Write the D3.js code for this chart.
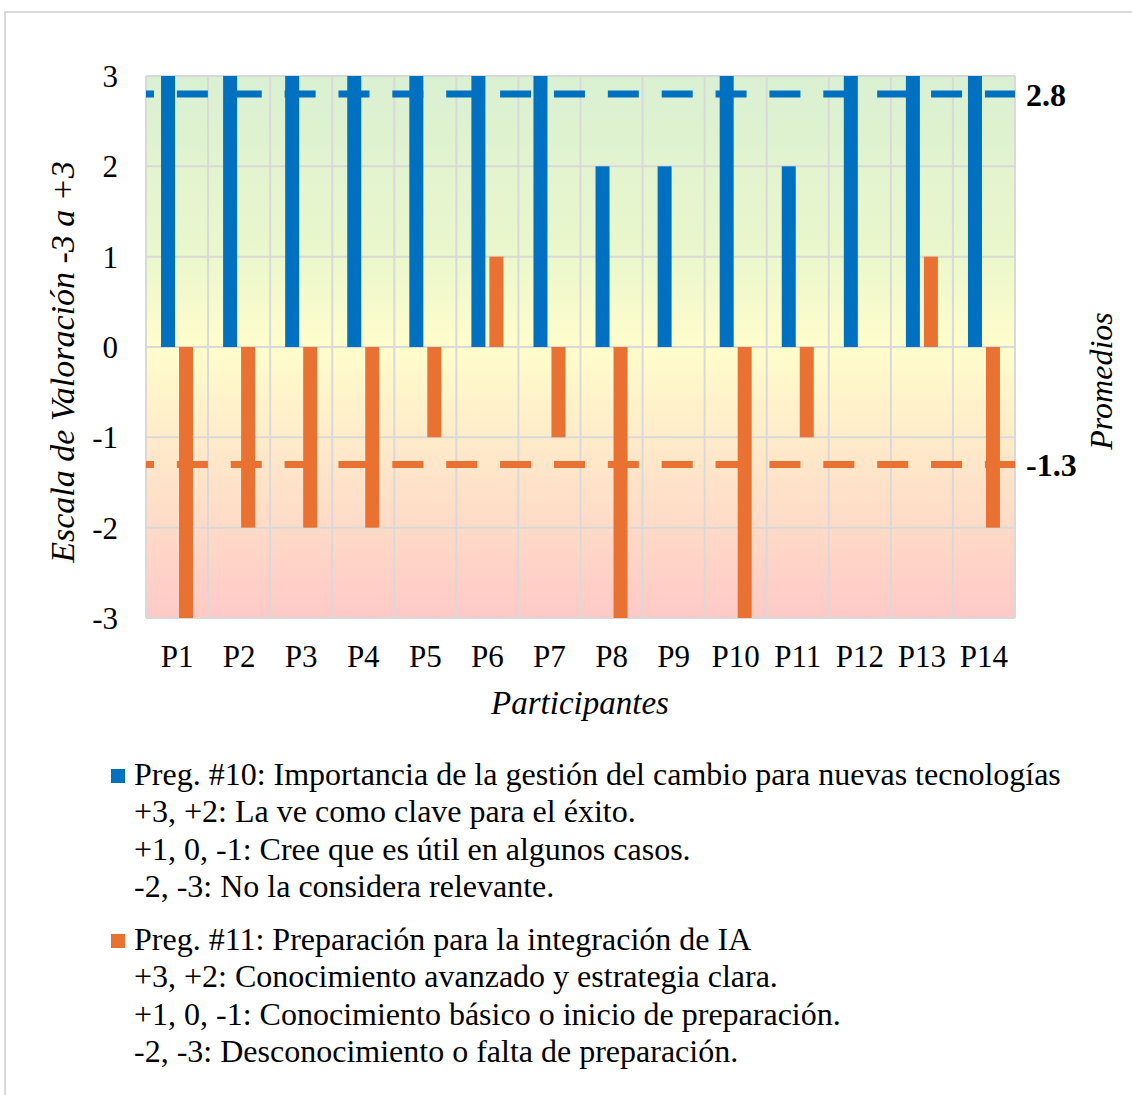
<!DOCTYPE html>
<html lang="es">
<head>
<meta charset="utf-8">
<script src="https://cdn.jsdelivr.net/npm/d3@7/dist/d3.min.js"></script>
<style>
  html, body { margin: 0; padding: 0; background: #ffffff; }
  svg { display: block; font-family: "Liberation Serif", "Times New Roman", serif; }
</style>
</head>
<body>
<svg id="chart" width="1132" height="1095"></svg>
<script>
// Participants and their ratings (-3 .. +3) for each question
const participants = ["P1","P2","P3","P4","P5","P6","P7","P8","P9","P10","P11","P12","P13","P14"];
const preg10 = [3, 3, 3, 3, 3, 3, 3, 2, 2, 3, 2, 3, 3, 3];
const preg11 = [-3, -2, -2, -2, -1, 1, -1, -3, 0, -3, -1, 0, 1, -2];
const yTicks = [-3, -2, -1, 0, 1, 2, 3];

const seriesKeys = ["preg10", "preg11"];
const seriesColors = ["#0070C0", "#E97132"];

const legendPreg10 = [
  "Preg. #10: Importancia de la gestión del cambio para nuevas tecnologías",
  "+3, +2: La ve como clave para el éxito.",
  "+1, 0, -1: Cree que es útil en algunos casos.",
  "-2, -3: No la considera relevante."
];
const legendPreg11 = [
  "Preg. #11: Preparación para la integración de IA",
  "+3, +2: Conocimiento avanzado y estrategia clara.",
  "+1, 0, -1: Conocimiento básico o inicio de preparación.",
  "-2, -3: Desconocimiento o falta de preparación."
];

const rows = participants.map((p, i) => ({ p, preg10: preg10[i], preg11: preg11[i] }));
const averages = [
  +d3.mean(preg10).toFixed(1),
  +d3.mean(preg11).toFixed(1)
];

const svg = d3.select("#chart");
const plot = { left: 146, right: 1015, top: 76, bottom: 618 };
const gridColor = "#d9d9d9";
const serif = "Liberation Serif, Times New Roman, serif";

// Outer frame of the figure
svg.append("path")
  .attr("d", "M5,1095 V12 H1132")
  .attr("fill", "none")
  .attr("stroke", gridColor)
  .attr("stroke-width", 2);

const x = d3.scaleBand().domain(participants).range([plot.left, plot.right]).padding(0);
const xInner = d3.scaleBand().domain(seriesKeys)
  .range([x.bandwidth() / 2 - 16, x.bandwidth() / 2 + 16])
  .paddingInner(0.2222).paddingOuter(0);
const y = d3.scaleLinear().domain([-3, 3]).range([plot.bottom, plot.top]);

// Background: green on top, yellow around zero, pink at the bottom
const defs = svg.append("defs");
const grad = defs.append("linearGradient").attr("id", "bg")
  .attr("x1", 0).attr("y1", 0).attr("x2", 0).attr("y2", 1);
[["0%", "#d9f0d2"], ["33%", "#ebf7cc"], ["50%", "#fffdcc"], ["72%", "#ffe6c9"], ["100%", "#ffc9c6"]]
  .forEach(([o, c]) => grad.append("stop").attr("offset", o).attr("stop-color", c));

svg.append("rect")
  .attr("x", plot.left).attr("y", plot.top)
  .attr("width", plot.right - plot.left).attr("height", plot.bottom - plot.top)
  .attr("fill", "url(#bg)");

// Gridlines
svg.append("g")
  .selectAll("line")
  .data(yTicks)
  .join("line")
  .attr("x1", plot.left).attr("x2", plot.right)
  .attr("y1", d => y(d)).attr("y2", d => y(d))
  .attr("stroke", gridColor).attr("stroke-width", 2);

const vEdges = participants.map(p => x(p)).concat([plot.right]);
svg.append("g")
  .selectAll("line")
  .data(vEdges)
  .join("line")
  .attr("x1", d => d).attr("x2", d => d)
  .attr("y1", plot.top).attr("y2", plot.bottom)
  .attr("stroke", gridColor).attr("stroke-width", 2);

// Bars
const groups = svg.append("g")
  .selectAll("g")
  .data(rows)
  .join("g")
  .attr("transform", d => `translate(${x(d.p)},0)`);

groups.selectAll("rect")
  .data(d => seriesKeys.map((k, i) => ({ key: k, value: d[k], color: seriesColors[i] })))
  .join("rect")
  .attr("x", d => xInner(d.key))
  .attr("width", xInner.bandwidth())
  .attr("y", d => y(Math.max(0, d.value)))
  .attr("height", d => Math.abs(y(d.value) - y(0)))
  .attr("fill", d => d.color);

// Average lines (dashed) with their labels on the right
const avgG = svg.append("g");
averages.forEach((a, i) => {
  avgG.append("line")
    .attr("x1", plot.left).attr("x2", plot.right)
    .attr("y1", y(a)).attr("y2", y(a))
    .attr("stroke", seriesColors[i])
    .attr("stroke-width", 7)
    .attr("stroke-dasharray", "31 22.87")
    .attr("stroke-dashoffset", 23);
  avgG.append("text")
    .attr("x", 1026)
    .attr("y", y(a) + 12)
    .attr("font-size", 32)
    .attr("font-family", serif)
    .attr("font-weight", "bold")
    .attr("fill", "#000")
    .text(a.toFixed(1));
});

// Y axis tick labels
const yAxis = d3.axisLeft(y).tickValues(yTicks).tickSize(0).tickPadding(0)
  .tickFormat(d => String(d));
const yAxisG = svg.append("g").attr("transform", `translate(118,0)`).call(yAxis);
yAxisG.select(".domain").remove();
yAxisG.selectAll("text")
  .attr("font-size", 31)
  .attr("font-family", serif)
  .attr("fill", "#000")
  .attr("dy", "0.34em");

// X axis category labels
const xAxis = d3.axisBottom(x).tickSize(0).tickPadding(0);
const xAxisG = svg.append("g").attr("transform", `translate(0,${plot.bottom})`).call(xAxis);
xAxisG.select(".domain").remove();
xAxisG.selectAll("text")
  .attr("font-size", 31)
  .attr("font-family", serif)
  .attr("fill", "#000")
  .attr("dy", 0)
  .attr("y", 49);

// Axis titles
svg.append("text")
  .attr("x", 580).attr("y", 714)
  .attr("text-anchor", "middle")
  .attr("font-size", 33).attr("font-style", "italic")
  .text("Participantes");

svg.append("text")
  .attr("transform", "translate(74,362) rotate(-90)")
  .attr("text-anchor", "middle")
  .attr("font-size", 34).attr("font-style", "italic")
  .text("Escala de Valoración -3 a +3");

svg.append("text")
  .attr("transform", "translate(1112,381) rotate(-90)")
  .attr("text-anchor", "middle")
  .attr("font-size", 32).attr("font-style", "italic")
  .text("Promedios");

// Legend
const legendBlocks = [legendPreg10, legendPreg11];
const blockTops = [785, 950];
legendBlocks.forEach((lines, b) => {
  const g = svg.append("g");
  g.append("rect")
    .attr("x", 111).attr("y", blockTops[b] - 16)
    .attr("width", 14).attr("height", 14)
    .attr("fill", seriesColors[b]);
  g.selectAll("text")
    .data(lines)
    .join("text")
    .attr("x", 134)
    .attr("y", (d, i) => blockTops[b] + i * 37.3)
    .attr("font-size", 32)
    .attr("fill", "#000")
    .text(d => d);
});
</script>
</body>
</html>
